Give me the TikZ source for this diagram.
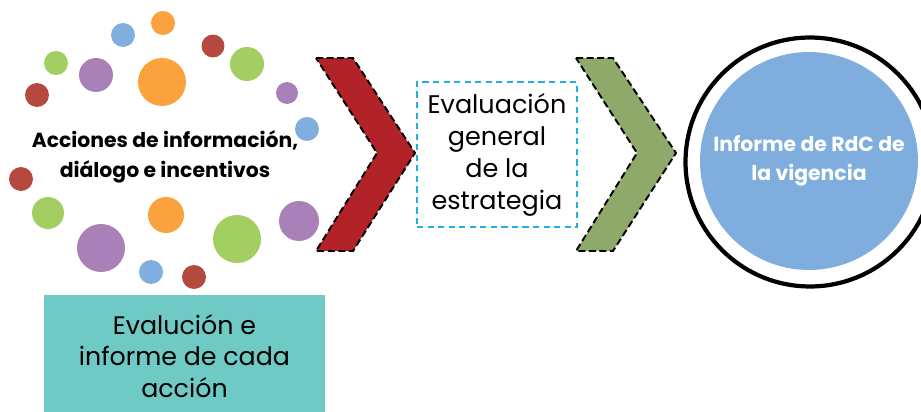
\documentclass[tikz,border=0pt]{standalone}
\usepackage{fontspec}
\setmainfont{Poppins}
\usetikzlibrary{positioning}

\definecolor{dotorange}{HTML}{F9A23E}
\definecolor{dotblue}{HTML}{7FAEDF}
\definecolor{dotred}{HTML}{B5483F}
\definecolor{dotgreen}{HTML}{A2CE62}
\definecolor{dotpurple}{HTML}{A981B8}
\definecolor{chevred}{HTML}{B22229}
\definecolor{chevgreen}{HTML}{8EA96A}
\definecolor{boxteal}{HTML}{6FC9C4}
\definecolor{boxcyan}{HTML}{1FB0E6}
\definecolor{circblue}{HTML}{7FADDD}

\tikzset{
	dot/.style = {circle, inner sep = 0pt, minimum size = #1},
	chevron/.style = {draw = black, dash pattern = on 4pt off 2pt, line width = 1.1pt},
	evalbox/.style = {draw = boxcyan, dash pattern = on 3.5pt off 2.5pt, line width = 1.1pt,
		minimum width = 3.2 cm, minimum height = 2.9 cm, align = center,
		font = \fontsize{14.5}{18.2}\selectfont},
	actionbox/.style = {fill = boxteal, minimum width = 5.62 cm, minimum height = 2.46 cm,
		align = center, font = \fontsize{14.4}{18}\selectfont},
}

\begin{document}
\begin{tikzpicture}[x = 0.02 cm, y = -0.02 cm]
	\useasboundingbox (0,0) rectangle (921,412);
	\clip (0,0) rectangle (921,412);
	% dots around the actions
	\foreach \px/\py/\r/\c [count = \i] in {
		163/23/12/dotorange, 123/35/12/dotblue, 213/46/11.5/dotred,
		56/63/12/dotgreen, 96/75/17/dotpurple, 162/82/24/dotorange,
		247/64/17/dotgreen, 37/95/12/dotred, 287/93/11/dotpurple,
		307/129/12/dotblue, 21/179/12/dotred, 48/213/16/dotgreen,
		166/215/18/dotorange, 299/221/20/dotpurple, 101/248/24/dotpurple,
		237/239/24/dotgreen, 151/272/12/dotblue, 194/277/12/dotred}
		\node[dot = {\r*0.04 cm}, fill = \c] (d\i) at (\px,\py) {};
	\node[align = center, font = \bfseries\fontsize{11.6}{17}\selectfont] (acciones) at (165,157)
		{Acciones de información,\\diálogo e incentivos};
	\node[actionbox] (cada) at (184.5,356) {Evalución e\\informe de cada\\acción};
	% chevrons
	\draw[chevron, fill = chevred] (316,58) -- (353,58) -- (415,153) -- (353,251) -- (316,251) -- (377,153) -- cycle;
	\node[evalbox] (general) at (497,154.5) {Evaluación\\general\\de la\\estrategia};
	\draw[chevron, fill = chevgreen] (576,58) -- (613,58) -- (676,153) -- (613,251) -- (576,251) -- (637,153) -- cycle;
	% report
	\node[circle, draw, line width = 2.4 pt, minimum size = 4.98 cm] (ring) at (810,162) {};
	\node[circle, fill = circblue, minimum size = 4.36 cm, text = white, align = center,
		font = \bfseries\fontsize{11.6}{16.5}\selectfont] (informe) at (809,161)
		{Informe de RdC de\\la vigencia};
\end{tikzpicture}
\end{document}
